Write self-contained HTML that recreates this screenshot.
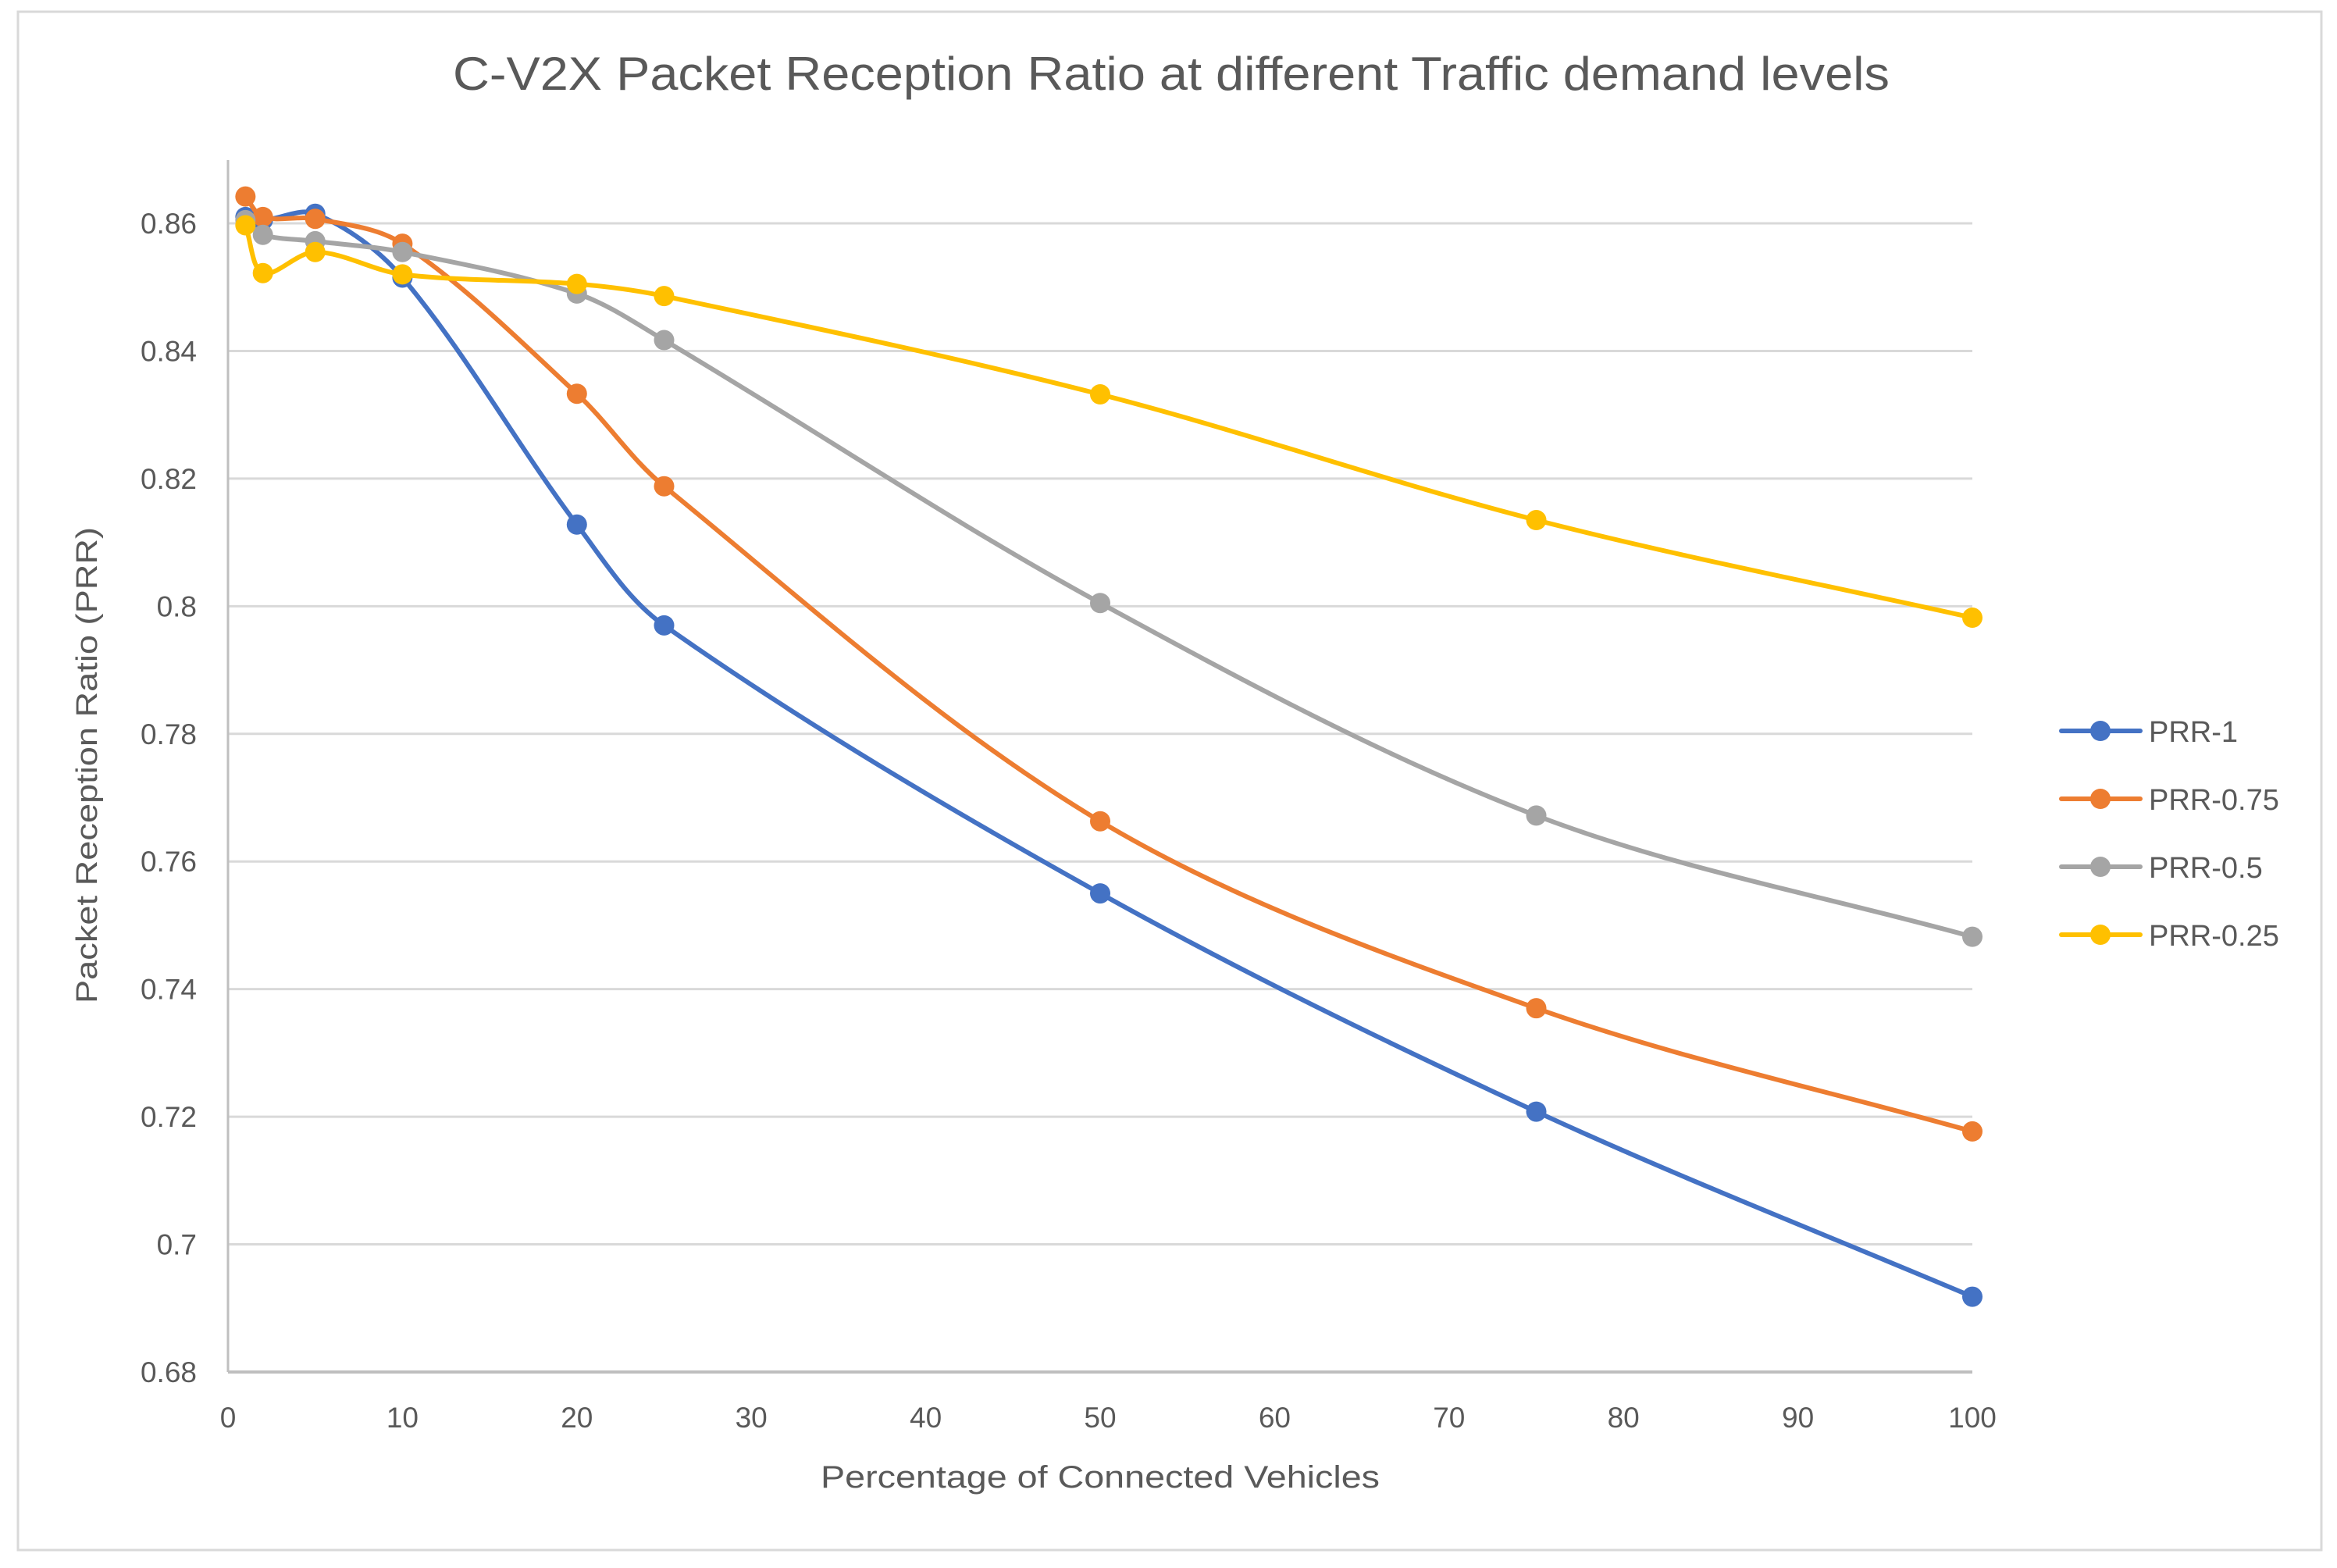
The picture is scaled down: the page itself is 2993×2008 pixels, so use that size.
<!DOCTYPE html>
<html><head><meta charset="utf-8"><style>
html,body{margin:0;padding:0;background:#fff}
svg{display:block}
text{font-family:"Liberation Sans",sans-serif;fill:#595959}
</style></head><body>
<svg id="chart" width="2993" height="2008" viewBox="0 0 2993 2008" xmlns="http://www.w3.org/2000/svg">
<rect x="23" y="15" width="2950" height="1970" fill="#fff" stroke="#d9d9d9" stroke-width="3"/>
<text x="1500" y="115" font-size="60" text-anchor="middle" textLength="1840" lengthAdjust="spacingAndGlyphs">C-V2X Packet Reception Ratio at different Traffic demand levels</text>
<g id="grid"></g>
<g id="axes"></g>
<g id="series"></g>
<text x="124" y="980" font-size="38" text-anchor="middle" transform="rotate(-90 124 980)" textLength="610" lengthAdjust="spacingAndGlyphs">Packet Reception Ratio (PRR)</text>
<text x="1409" y="1905" font-size="40" text-anchor="middle" textLength="716" lengthAdjust="spacingAndGlyphs">Percentage of Connected Vehicles</text>
<g id="legend"></g>
</svg>
<script>
const xValues = [1, 2, 5, 10, 20, 25, 50, 75, 100];
const seriesNames = ["PRR-1", "PRR-0.75", "PRR-0.5", "PRR-0.25"];
const prr1 = [0.861, 0.8605, 0.8615, 0.8515, 0.8128, 0.797, 0.755, 0.7208, 0.6918];
const prr075 = [0.8642, 0.861, 0.8607, 0.8568, 0.8333, 0.8188, 0.7663, 0.737, 0.7177];
const prr05 = [0.8605, 0.8582, 0.8572, 0.8555, 0.849, 0.8417, 0.8005, 0.7672, 0.7482];
const prr025 = [0.8597, 0.8522, 0.8555, 0.852, 0.8505, 0.8486, 0.8332, 0.8135, 0.7982];
const xTicks = [0, 10, 20, 30, 40, 50, 60, 70, 80, 90, 100];
const yTicks = [0.68, 0.7, 0.72, 0.74, 0.76, 0.78, 0.8, 0.82, 0.84, 0.86];
const yTickLabels = ["0.68", "0.7", "0.72", "0.74", "0.76", "0.78", "0.8", "0.82", "0.84", "0.86"];

const colors = ["#4472c4", "#ed7d31", "#a5a5a5", "#ffc000"];
const NS = "http://www.w3.org/2000/svg";
const X0 = 292, X1 = 2526, Y0 = 1757, Y1 = 286;
const xMin = 0, xMax = 100, yMin = 0.68, yMax = 0.86;
function xs(v){ return X0 + (v - xMin) / (xMax - xMin) * (X1 - X0); }
function ys(v){ return Y0 - (v - yMin) / (yMax - yMin) * (Y0 - Y1); }
function mk(tag, attrs, parent){ const e = document.createElementNS(NS, tag); for (const k in attrs) e.setAttribute(k, attrs[k]); parent.appendChild(e); return e; }

const grid = document.getElementById('grid');
const axes = document.getElementById('axes');
yTicks.forEach((t, i) => {
  if (i > 0) {
    const l = mk('line', {x1: X0, x2: X1, y1: ys(t), y2: ys(t), stroke: '#d9d9d9', 'stroke-width': 3}, grid);
    
    
  }
  const tx = mk('text', {x: 252, y: ys(t) + 13, 'font-size': 37, 'text-anchor': 'end'}, axes);
  tx.textContent = yTickLabels[i];
  
  
});
const ya = mk('line', {x1: X0, x2: X0, y1: 205, y2: Y0, stroke: '#bfbfbf', 'stroke-width': 3}, axes);


const xa = mk('line', {x1: X0, x2: X1, y1: Y0, y2: Y0, stroke: '#bfbfbf', 'stroke-width': 4}, axes);


xTicks.forEach(t => {
  const tx = mk('text', {x: xs(t), y: 1828, 'font-size': 37, 'text-anchor': 'middle'}, axes);
  tx.textContent = String(t);
  
  
});

function dist(a, b){ return Math.hypot(b[0]-a[0], b[1]-a[1]); }
function smoothPath(pts){
  let d = 'M' + pts[0][0] + ',' + pts[0][1];
  for (let i = 0; i < pts.length - 1; i++) {
    const p0 = pts[Math.max(0, i-1)], p1 = pts[i], p2 = pts[i+1], p3 = pts[Math.min(pts.length-1, i+2)];
    const d01 = dist(p0, p1), d12 = dist(p1, p2), d23 = dist(p2, p3);
    const f1 = (d01 + d12) > 0 ? d12 / (d01 + d12) / 3 * 2 : 0;
    const f2 = (d12 + d23) > 0 ? d12 / (d12 + d23) / 3 * 2 : 0;
    const c1x = p1[0] + (p2[0]-p0[0])*f1*0.5, c1y = p1[1] + (p2[1]-p0[1])*f1*0.5;
    const c2x = p2[0] - (p3[0]-p1[0])*f2*0.5, c2y = p2[1] - (p3[1]-p1[1])*f2*0.5;
    d += ' C' + c1x + ',' + c1y + ' ' + c2x + ',' + c2y + ' ' + p2[0] + ',' + p2[1];
  }
  return d;
}
const allSeries = [prr1, prr075, prr05, prr025];
const sg = document.getElementById('series');
allSeries.forEach((vals, si) => {
  const g = mk('g', {}, sg);
  
  
  const pts = vals.map((v, i) => [xs(xValues[i]), ys(v)]);
  const p = mk('path', {d: smoothPath(pts), fill: 'none', stroke: colors[si], 'stroke-width': 6, 'stroke-linejoin': 'round', 'stroke-linecap': 'round'}, g);
  
  
  pts.forEach(pt => {
    const c = mk('circle', {cx: pt[0], cy: pt[1], r: 13, fill: colors[si]}, g);
    
    
  });
});

const lg = document.getElementById('legend');
const legendY = [936, 1023, 1110, 1197];
seriesNames.forEach((n, i) => {
  const g = mk('g', {}, lg);
  
  
  mk('line', {x1: 2640, x2: 2741, y1: legendY[i], y2: legendY[i], stroke: colors[i], 'stroke-width': 6, 'stroke-linecap': 'round'}, g);
  mk('circle', {cx: 2690, cy: legendY[i], r: 13, fill: colors[i]}, g);
  const t = mk('text', {x: 2752, y: legendY[i] + 14, 'font-size': 38}, g);
  t.textContent = n;
});
</script>
</body></html>
